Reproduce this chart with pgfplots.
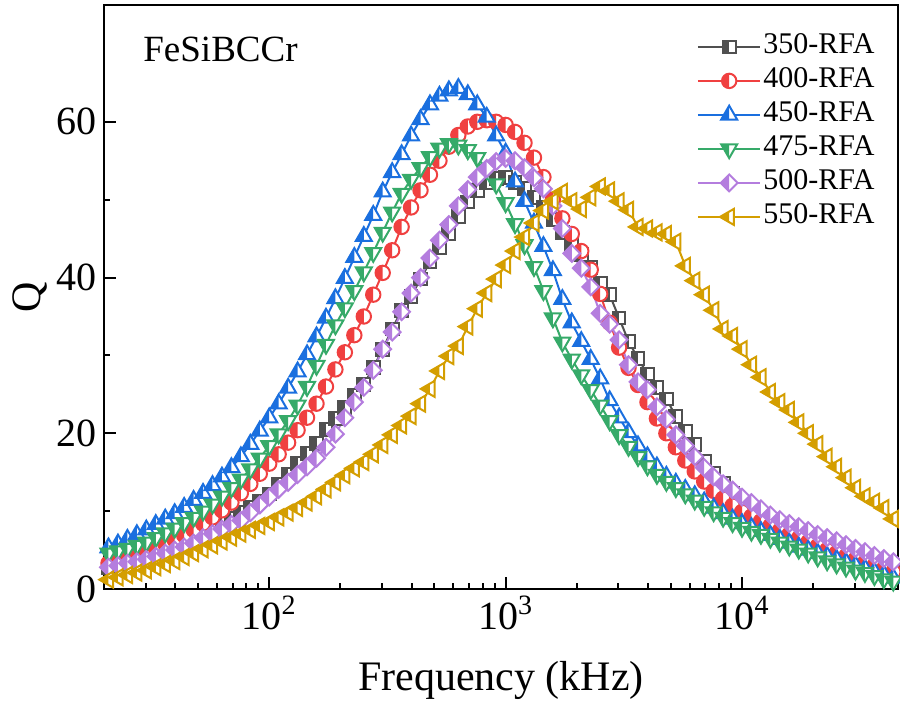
\documentclass[border=0pt]{standalone}
\usepackage{fontspec}
\setmainfont{Liberation Serif}
\usepackage{pgfplots}
\usepackage{pgfplotstable}
\pgfplotsset{compat=1.18}

\definecolor{c350}{RGB}{80,80,80}
\definecolor{c400}{RGB}{240,64,64}
\definecolor{c450}{RGB}{26,111,223}
\definecolor{c475}{RGB}{54,170,105}
\definecolor{c500}{RGB}{180,125,222}
\definecolor{c550}{RGB}{212,158,0}

% half-filled marks (left half in fill colour, right half white)
\pgfdeclareplotmark{hsq}{%
  \begin{pgfscope}\pgfsetfillcolor{white}%
    \pgfpathrectangle{\pgfpoint{-\pgfplotmarksize}{-\pgfplotmarksize}}{\pgfpoint{2\pgfplotmarksize}{2\pgfplotmarksize}}%
    \pgfusepath{fill}\end{pgfscope}%
  \pgfpathrectangle{\pgfpoint{-\pgfplotmarksize}{-\pgfplotmarksize}}{\pgfpoint{\pgfplotmarksize}{2\pgfplotmarksize}}%
  \pgfusepath{fill}%
  \pgfpathrectangle{\pgfpoint{-\pgfplotmarksize}{-\pgfplotmarksize}}{\pgfpoint{2\pgfplotmarksize}{2\pgfplotmarksize}}%
  \pgfusepath{stroke}}
\pgfdeclareplotmark{hcirc}{%
  \begin{pgfscope}\pgfsetfillcolor{white}%
    \pgfpathcircle{\pgfpointorigin}{\pgfplotmarksize}\pgfusepath{fill}\end{pgfscope}%
  \pgfpathmoveto{\pgfpoint{0pt}{\pgfplotmarksize}}%
  \pgfpatharc{90}{270}{\pgfplotmarksize}\pgfpathclose
  \pgfusepath{fill}%
  \pgfpathcircle{\pgfpointorigin}{\pgfplotmarksize}\pgfusepath{stroke}}
\pgfdeclareplotmark{htriu}{%
  \begin{pgfscope}\pgfsetfillcolor{white}%
    \pgfpathmoveto{\pgfpoint{0pt}{\pgfplotmarksize}}%
    \pgfpathlineto{\pgfpoint{-0.866\pgfplotmarksize}{-0.5\pgfplotmarksize}}%
    \pgfpathlineto{\pgfpoint{0.866\pgfplotmarksize}{-0.5\pgfplotmarksize}}%
    \pgfpathclose\pgfusepath{fill}\end{pgfscope}%
  \pgfpathmoveto{\pgfpoint{0pt}{\pgfplotmarksize}}%
  \pgfpathlineto{\pgfpoint{-0.866\pgfplotmarksize}{-0.5\pgfplotmarksize}}%
  \pgfpathlineto{\pgfpoint{0pt}{-0.5\pgfplotmarksize}}%
  \pgfpathclose\pgfusepath{fill}%
  \pgfpathmoveto{\pgfpoint{0pt}{\pgfplotmarksize}}%
  \pgfpathlineto{\pgfpoint{-0.866\pgfplotmarksize}{-0.5\pgfplotmarksize}}%
  \pgfpathlineto{\pgfpoint{0.866\pgfplotmarksize}{-0.5\pgfplotmarksize}}%
  \pgfpathclose\pgfusepath{stroke}}
\pgfdeclareplotmark{htrid}{%
  \begin{pgfscope}\pgfsetfillcolor{white}%
    \pgfpathmoveto{\pgfpoint{0pt}{-\pgfplotmarksize}}%
    \pgfpathlineto{\pgfpoint{-0.866\pgfplotmarksize}{0.5\pgfplotmarksize}}%
    \pgfpathlineto{\pgfpoint{0.866\pgfplotmarksize}{0.5\pgfplotmarksize}}%
    \pgfpathclose\pgfusepath{fill}\end{pgfscope}%
  \pgfpathmoveto{\pgfpoint{0pt}{-\pgfplotmarksize}}%
  \pgfpathlineto{\pgfpoint{-0.866\pgfplotmarksize}{0.5\pgfplotmarksize}}%
  \pgfpathlineto{\pgfpoint{0pt}{0.5\pgfplotmarksize}}%
  \pgfpathclose\pgfusepath{fill}%
  \pgfpathmoveto{\pgfpoint{0pt}{-\pgfplotmarksize}}%
  \pgfpathlineto{\pgfpoint{-0.866\pgfplotmarksize}{0.5\pgfplotmarksize}}%
  \pgfpathlineto{\pgfpoint{0.866\pgfplotmarksize}{0.5\pgfplotmarksize}}%
  \pgfpathclose\pgfusepath{stroke}}
\pgfdeclareplotmark{htril}{%
  \begin{pgfscope}\pgfsetfillcolor{white}%
    \pgfpathmoveto{\pgfpoint{-\pgfplotmarksize}{0pt}}%
    \pgfpathlineto{\pgfpoint{0.5\pgfplotmarksize}{0.866\pgfplotmarksize}}%
    \pgfpathlineto{\pgfpoint{0.5\pgfplotmarksize}{-0.866\pgfplotmarksize}}%
    \pgfpathclose\pgfusepath{fill}\end{pgfscope}%
  \pgfpathmoveto{\pgfpoint{-\pgfplotmarksize}{0pt}}%
  \pgfpathlineto{\pgfpoint{0pt}{0.577\pgfplotmarksize}}%
  \pgfpathlineto{\pgfpoint{0pt}{-0.577\pgfplotmarksize}}%
  \pgfpathclose\pgfusepath{fill}%
  \pgfpathmoveto{\pgfpoint{-\pgfplotmarksize}{0pt}}%
  \pgfpathlineto{\pgfpoint{0.5\pgfplotmarksize}{0.866\pgfplotmarksize}}%
  \pgfpathlineto{\pgfpoint{0.5\pgfplotmarksize}{-0.866\pgfplotmarksize}}%
  \pgfpathclose\pgfusepath{stroke}}
\pgfdeclareplotmark{hdia}{%
  \begin{pgfscope}\pgfsetfillcolor{white}%
    \pgfpathmoveto{\pgfpoint{0pt}{\pgfplotmarksize}}%
    \pgfpathlineto{\pgfpoint{-\pgfplotmarksize}{0pt}}%
    \pgfpathlineto{\pgfpoint{0pt}{-\pgfplotmarksize}}%
    \pgfpathlineto{\pgfpoint{\pgfplotmarksize}{0pt}}%
    \pgfpathclose\pgfusepath{fill}\end{pgfscope}%
  \pgfpathmoveto{\pgfpoint{0pt}{\pgfplotmarksize}}%
  \pgfpathlineto{\pgfpoint{-\pgfplotmarksize}{0pt}}%
  \pgfpathlineto{\pgfpoint{0pt}{-\pgfplotmarksize}}%
  \pgfpathclose\pgfusepath{fill}%
  \pgfpathmoveto{\pgfpoint{0pt}{\pgfplotmarksize}}%
  \pgfpathlineto{\pgfpoint{-\pgfplotmarksize}{0pt}}%
  \pgfpathlineto{\pgfpoint{0pt}{-\pgfplotmarksize}}%
  \pgfpathlineto{\pgfpoint{\pgfplotmarksize}{0pt}}%
  \pgfpathclose\pgfusepath{stroke}}

% f (kHz), Q for 350, 400, 450, 475, 500, 550-RFA
\pgfplotstableread{
f q350 q400 q450 q475 q500 q550
19.05 2.5 3.0 4.9 4.3 2.5 1.0
20.89 2.8 3.3 5.3 4.6 2.8 1.2
22.91 3.1 3.6 5.8 4.9 3.0 1.5
25.12 3.4 4.0 6.4 5.2 3.3 1.8
27.54 3.8 4.4 7.0 5.6 3.5 2.1
30.20 4.2 4.8 7.6 6.0 3.8 2.4
33.11 4.6 5.3 8.3 6.6 4.2 2.8
36.31 5.0 5.8 9.0 7.2 4.6 3.2
39.81 5.5 6.3 9.7 7.8 5.0 3.6
43.65 6.1 6.9 10.5 8.5 5.4 4.1
47.86 6.7 7.6 11.4 9.2 5.9 4.6
52.48 7.3 8.4 12.3 10.0 6.6 5.1
57.54 7.9 9.2 13.3 10.9 7.1 5.6
63.10 8.5 10.1 14.4 11.9 7.7 6.1
69.18 9.1 11.1 15.6 13.0 8.3 6.6
75.86 9.8 12.3 17.0 14.1 8.8 7.1
83.18 10.5 13.5 18.6 15.4 9.8 7.6
91.20 11.3 14.8 20.3 16.8 10.8 8.1
100.0 12.2 16.1 22.0 18.4 11.8 8.6
109.6 13.4 17.3 23.8 19.9 12.8 9.2
120.2 14.7 18.8 25.8 21.6 13.7 9.8
131.8 16.1 20.4 27.9 23.6 14.7 10.4
144.5 17.4 22.0 30.1 26.0 15.7 11.1
158.5 18.7 23.8 32.4 28.7 16.8 11.9
173.8 20.5 26.0 34.8 31.4 18.2 12.8
190.5 21.9 28.2 37.3 33.9 19.9 13.7
208.9 23.3 30.4 39.9 36.1 22.0 14.6
229.1 24.8 32.6 42.6 38.3 24.0 15.5
251.2 26.3 35.0 45.3 40.7 25.9 16.3
275.4 28.4 37.8 48.0 43.2 28.1 17.3
302.0 30.8 40.6 51.0 45.8 30.8 18.5
331.1 33.4 43.5 53.5 48.4 33.0 19.8
363.1 35.8 46.5 55.8 50.8 35.6 21.0
398.1 37.6 49.0 58.2 52.6 38.0 22.2
436.5 39.8 51.2 60.3 54.1 40.0 23.8
478.6 42.0 53.2 62.2 55.5 42.5 25.7
524.8 43.9 55.0 63.3 56.6 44.8 28.0
575.4 45.7 56.8 64.0 57.2 46.8 29.9
631.0 47.8 58.3 64.3 57.0 49.2 31.2
691.8 49.7 59.4 63.5 56.4 51.3 33.7
758.6 51.2 60.0 62.2 55.4 52.9 36.0
831.8 52.2 60.2 60.6 53.9 54.0 38.0
912.0 52.7 60.0 58.2 52.0 54.9 39.8
1000 52.8 59.6 56.0 49.6 55.3 41.6
1096 52.2 58.7 52.3 46.9 55.0 43.4
1202 51.4 57.3 49.8 44.2 54.1 45.2
1318 50.3 55.4 47.0 41.4 52.8 47.0
1445 49.0 52.9 44.0 38.3 51.4 48.6
1585 47.5 50.0 40.9 34.8 49.2 49.8
1738 45.8 47.6 37.2 31.7 46.3 51.0
1905 44.3 45.6 34.2 29.5 43.1 49.8
2089 43.0 43.4 31.8 27.5 41.2 48.8
2291 41.3 41.0 29.5 25.6 38.8 50.3
2512 39.2 37.9 27.0 23.6 35.4 51.7
2754 37.8 34.2 24.2 21.6 34.0 51.2
3020 34.8 31.0 22.0 19.8 32.0 49.8
3311 31.8 28.4 20.1 18.3 28.8 48.7
3631 29.6 26.2 18.4 17.0 26.6 46.5
3981 27.6 24.0 17.0 15.8 25.6 46.3
4365 25.9 21.9 15.7 14.7 23.4 45.8
4786 24.4 20.0 14.5 13.8 21.8 45.6
5248 22.2 18.2 13.6 13.0 19.8 44.6
5754 20.2 16.5 12.8 12.2 18.4 41.5
6310 18.6 15.1 12.0 11.4 17.0 39.6
6918 16.4 13.8 11.2 10.6 15.6 37.8
7586 14.9 12.6 10.4 9.9 14.4 35.8
8318 13.5 11.6 9.7 9.2 13.5 33.4
9120 12.3 10.7 9.0 8.5 12.7 32.5
10000 11.3 9.9 8.4 7.9 11.8 30.8
10960 10.4 9.3 7.9 7.4 11.1 28.8
12020 9.6 8.7 7.4 7.0 10.3 27.2
13180 8.9 8.1 6.9 6.5 9.5 25.3
14450 8.2 7.5 6.4 6.0 8.9 24.0
15850 7.6 7.0 5.9 5.5 8.4 23.0
17380 7.0 6.5 5.4 5.1 8.0 21.4
19050 6.5 6.0 5.0 4.6 7.5 20.0
20890 6.0 5.5 4.6 4.1 7.0 18.6
22910 5.5 5.0 4.2 3.6 6.6 17.0
25120 5.0 4.6 3.8 3.2 6.2 15.7
27540 4.6 4.2 3.4 2.8 5.7 14.3
30200 4.2 3.8 3.0 2.4 5.2 13.0
33110 3.8 3.4 2.6 2.1 4.8 11.9
36310 3.4 3.0 2.2 1.7 4.3 11.2
39810 3.0 2.6 1.8 1.3 3.9 10.4
43650 2.6 2.2 1.4 1.0 3.5 9.0
47860 2.3 1.9 1.1 0.7 3.2 8.3
}\qdata

\begin{document}
\begin{tikzpicture}
\begin{axis}[
  scale only axis, width=397pt, height=292pt,
  xmode=log, xmin=20, xmax=45700,
  ymin=0, ymax=75, ytick={0,20,40,60}, minor y tick num=1,
  tick align=inside, tick pos=left,
  major tick length=6pt, minor tick length=3pt,
  tick style={line width=1pt, black},
  axis line style={line width=1pt},
  /pgf/number format/assume math mode=true,
  ticklabel style={font=\fontsize{20}{24}\selectfont},
  xticklabel={10\textsuperscript{\pgfmathparse{int(round(\tick/ln(10)))}\pgfmathresult}},
  xlabel={Frequency (kHz)}, ylabel={Q},
  label style={font=\fontsize{21}{25}\selectfont},
  xlabel style={at={(axis description cs:0.5,0)}, anchor=base, yshift=-50.5pt},
  ylabel style={at={(axis description cs:-0.093,0.5)}, anchor=center},
  legend cell align=left,
  legend style={at={(1,1)}, anchor=north east, xshift=-10.5pt, yshift=-14pt,
    draw=none, fill=none, inner sep=0pt, row sep=3.5pt,
    font=\fontsize{15}{17}\selectfont,
    nodes={inner sep=1pt, text height=9pt, text depth=2.5pt}},
  legend image code/.code={\draw[mark repeat=2, mark phase=2]
    plot coordinates {(0cm,0cm) (0.55cm,0cm) (1.1cm,0cm)};},
  every axis plot/.append style={line width=1pt},
]
\addplot[c350, mark=hsq, mark size=3.2pt, mark options={solid, fill=c350}]
  table[x=f, y=q350] {\qdata};
\addlegendentry{350-RFA}
\addplot[c400, mark=hcirc, mark size=3.6pt, mark options={solid, fill=c400}]
  table[x=f, y=q400] {\qdata};
\addlegendentry{400-RFA}
\addplot[c450, mark=htriu, mark size=4.6pt, mark options={solid, fill=c450}]
  table[x=f, y=q450] {\qdata};
\addlegendentry{450-RFA}
\addplot[c475, mark=htrid, mark size=4.6pt, mark options={solid, fill=c475}]
  table[x=f, y=q475] {\qdata};
\addlegendentry{475-RFA}
\addplot[c500, mark=hdia, mark size=4.2pt, mark options={solid, fill=c500}]
  table[x=f, y=q500] {\qdata};
\addlegendentry{500-RFA}
\addplot[c550, mark=htril, mark size=4.6pt, mark options={solid, fill=c550}]
  table[x=f, y=q550] {\qdata};
\addlegendentry{550-RFA}
\node[anchor=north west, inner sep=0pt, font=\fontsize{18.5}{22}\selectfont]
  at (rel axis cs:0,1) [xshift=19.5pt, yshift=-16pt] {FeSiBCCr};
\end{axis}
\pgfresetboundingbox
\path (current axis.south west) ++(-52pt,-58.5pt) coordinate (bbl);
\path (current axis.north east) ++(1pt,2.5pt) coordinate (btr);
\useasboundingbox (bbl) rectangle (btr);
\end{tikzpicture}
\end{document}
